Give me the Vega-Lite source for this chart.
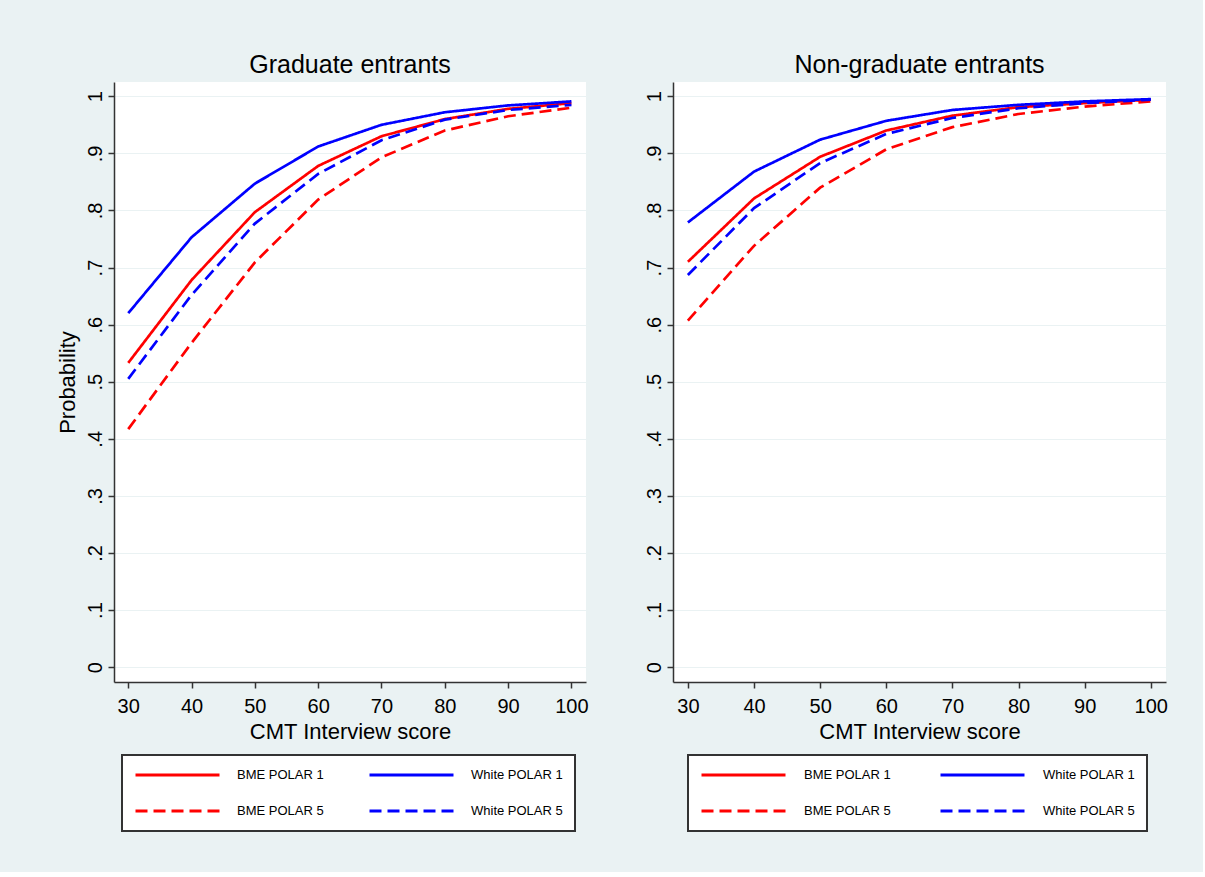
{
  "$schema": "https://vega.github.io/schema/vega-lite/v6.json",
  "background": "#EAF2F3",
  "padding": {"left": 56, "top": 53, "right": 35, "bottom": 40},
  "spacing": 55,
  "config": {
    "font": "Liberation Sans",
    "view": {"stroke": null, "fill": "white"},
    "axis": {
      "labelFont": "Liberation Sans",
      "titleFont": "Liberation Sans",
      "labelColor": "black",
      "titleColor": "black",
      "domainColor": "#333333",
      "domainWidth": 1.5,
      "tickColor": "#333333",
      "tickWidth": 1.5,
      "tickSize": 6,
      "titleFontWeight": "normal"
    },
    "title": {"font": "Liberation Sans", "fontSize": 25, "fontWeight": "normal", "color": "black"}
  },
  "datasets": {
    "grad": [
      {"score": 30, "prob": 0.533, "group": "BME POLAR 1"},
      {"score": 40, "prob": 0.678, "group": "BME POLAR 1"},
      {"score": 50, "prob": 0.797, "group": "BME POLAR 1"},
      {"score": 60, "prob": 0.878, "group": "BME POLAR 1"},
      {"score": 70, "prob": 0.930, "group": "BME POLAR 1"},
      {"score": 80, "prob": 0.960, "group": "BME POLAR 1"},
      {"score": 90, "prob": 0.978, "group": "BME POLAR 1"},
      {"score": 100, "prob": 0.988, "group": "BME POLAR 1"},
      {"score": 30, "prob": 0.620, "group": "White POLAR 1"},
      {"score": 40, "prob": 0.753, "group": "White POLAR 1"},
      {"score": 50, "prob": 0.847, "group": "White POLAR 1"},
      {"score": 60, "prob": 0.912, "group": "White POLAR 1"},
      {"score": 70, "prob": 0.950, "group": "White POLAR 1"},
      {"score": 80, "prob": 0.972, "group": "White POLAR 1"},
      {"score": 90, "prob": 0.984, "group": "White POLAR 1"},
      {"score": 100, "prob": 0.991, "group": "White POLAR 1"},
      {"score": 30, "prob": 0.417, "group": "BME POLAR 5"},
      {"score": 40, "prob": 0.568, "group": "BME POLAR 5"},
      {"score": 50, "prob": 0.709, "group": "BME POLAR 5"},
      {"score": 60, "prob": 0.819, "group": "BME POLAR 5"},
      {"score": 70, "prob": 0.893, "group": "BME POLAR 5"},
      {"score": 80, "prob": 0.940, "group": "BME POLAR 5"},
      {"score": 90, "prob": 0.965, "group": "BME POLAR 5"},
      {"score": 100, "prob": 0.980, "group": "BME POLAR 5"},
      {"score": 30, "prob": 0.505, "group": "White POLAR 5"},
      {"score": 40, "prob": 0.652, "group": "White POLAR 5"},
      {"score": 50, "prob": 0.777, "group": "White POLAR 5"},
      {"score": 60, "prob": 0.864, "group": "White POLAR 5"},
      {"score": 70, "prob": 0.923, "group": "White POLAR 5"},
      {"score": 80, "prob": 0.959, "group": "White POLAR 5"},
      {"score": 90, "prob": 0.976, "group": "White POLAR 5"},
      {"score": 100, "prob": 0.985, "group": "White POLAR 5"}
    ],
    "nongrad": [
      {"score": 30, "prob": 0.710, "group": "BME POLAR 1"},
      {"score": 40, "prob": 0.821, "group": "BME POLAR 1"},
      {"score": 50, "prob": 0.894, "group": "BME POLAR 1"},
      {"score": 60, "prob": 0.940, "group": "BME POLAR 1"},
      {"score": 70, "prob": 0.966, "group": "BME POLAR 1"},
      {"score": 80, "prob": 0.981, "group": "BME POLAR 1"},
      {"score": 90, "prob": 0.988, "group": "BME POLAR 1"},
      {"score": 100, "prob": 0.994, "group": "BME POLAR 1"},
      {"score": 30, "prob": 0.779, "group": "White POLAR 1"},
      {"score": 40, "prob": 0.868, "group": "White POLAR 1"},
      {"score": 50, "prob": 0.924, "group": "White POLAR 1"},
      {"score": 60, "prob": 0.957, "group": "White POLAR 1"},
      {"score": 70, "prob": 0.976, "group": "White POLAR 1"},
      {"score": 80, "prob": 0.985, "group": "White POLAR 1"},
      {"score": 90, "prob": 0.991, "group": "White POLAR 1"},
      {"score": 100, "prob": 0.995, "group": "White POLAR 1"},
      {"score": 30, "prob": 0.607, "group": "BME POLAR 5"},
      {"score": 40, "prob": 0.738, "group": "BME POLAR 5"},
      {"score": 50, "prob": 0.840, "group": "BME POLAR 5"},
      {"score": 60, "prob": 0.907, "group": "BME POLAR 5"},
      {"score": 70, "prob": 0.946, "group": "BME POLAR 5"},
      {"score": 80, "prob": 0.969, "group": "BME POLAR 5"},
      {"score": 90, "prob": 0.982, "group": "BME POLAR 5"},
      {"score": 100, "prob": 0.991, "group": "BME POLAR 5"},
      {"score": 30, "prob": 0.687, "group": "White POLAR 5"},
      {"score": 40, "prob": 0.804, "group": "White POLAR 5"},
      {"score": 50, "prob": 0.883, "group": "White POLAR 5"},
      {"score": 60, "prob": 0.934, "group": "White POLAR 5"},
      {"score": 70, "prob": 0.962, "group": "White POLAR 5"},
      {"score": 80, "prob": 0.979, "group": "White POLAR 5"},
      {"score": 90, "prob": 0.988, "group": "White POLAR 5"},
      {"score": 100, "prob": 0.994, "group": "White POLAR 5"}
    ]
  },
  "resolve": {"legend": {"color": "independent", "strokeDash": "independent"}},
  "hconcat": [
    {
      "data": {"name": "grad"},
      "title": {"text": "Graduate entrants", "anchor": "middle", "frame": "group", "offset": 4},
      "width": 472,
      "height": 600,
      "mark": {"type": "line", "strokeWidth": 2.7},
      "encoding": {
        "x": {"field": "score", "type": "quantitative",
          "scale": {"domain": [27.75, 102.3], "nice": false, "zero": false},
          "axis": {"title": "CMT Interview score", "values": [30, 40, 50, 60, 70, 80, 90, 100], "grid": false,
            "labelFontSize": 20, "titleFontSize": 22, "labelPadding": 8, "titlePadding": 5}},
        "y": {"field": "prob", "type": "quantitative",
          "scale": {"domain": [-0.026, 1.025], "nice": false, "zero": false},
          "axis": {"title": "Probability", "values": [0, 0.1, 0.2, 0.3, 0.4, 0.5, 0.6, 0.7, 0.8, 0.9, 1],
            "labelExpr": "datum.value == 0 ? '0' : datum.value == 1 ? '1' : '.' + round(datum.value * 10)",
            "labelAngle": 270, "labelAlign": "center", "labelBaseline": "bottom",
            "labelFontSize": 20, "titleFontSize": 22, "labelPadding": 3, "titlePadding": 6,
            "grid": true, "gridColor": "#EAF2F3", "gridWidth": 1.2}},
        "color": {"field": "group", "type": "nominal",
          "sort": ["BME POLAR 1", "White POLAR 1", "BME POLAR 5", "White POLAR 5"],
          "scale": {"domain": ["BME POLAR 1", "White POLAR 1", "BME POLAR 5", "White POLAR 5"], "range": ["#FF0000", "#0000FF", "#FF0000", "#0000FF"]},
          "legend": {"title": null, "orient": "none", "direction": "horizontal", "legendX": 8, "legendY": 673, "columns": 2,
            "symbolType": "stroke", "symbolSize": 7056, "symbolStrokeWidth": 3, "clipHeight": 16,
            "labelFontSize": 13, "labelFont": "Liberation Sans", "labelColor": "black", "labelOffset": 16,
            "rowPadding": 20, "columnPadding": 44, "padding": 12,
            "fillColor": "white", "strokeColor": "#333333",
            "encode": {"legend": {"update": {"strokeWidth": {"value": 2}}}}}},
        "strokeDash": {"field": "group", "type": "nominal",
          "sort": ["BME POLAR 1", "White POLAR 1", "BME POLAR 5", "White POLAR 5"],
          "scale": {"domain": ["BME POLAR 1", "White POLAR 1", "BME POLAR 5", "White POLAR 5"], "range": [[1, 0], [1, 0], [12, 6], [12, 6]]},
          "legend": {"title": null, "orient": "none", "direction": "horizontal", "legendX": 8, "legendY": 673, "columns": 2,
            "symbolType": "stroke", "symbolSize": 7056, "symbolStrokeWidth": 3, "clipHeight": 16,
            "labelFontSize": 13, "labelFont": "Liberation Sans", "labelColor": "black", "labelOffset": 16,
            "rowPadding": 20, "columnPadding": 44, "padding": 12,
            "fillColor": "white", "strokeColor": "#333333",
            "encode": {"legend": {"update": {"strokeWidth": {"value": 2}}}}}}
      }
    },
    {
      "data": {"name": "nongrad"},
      "title": {"text": "Non-graduate entrants", "anchor": "middle", "frame": "group", "offset": 4},
      "width": 493,
      "height": 600,
      "mark": {"type": "line", "strokeWidth": 2.7},
      "encoding": {
        "x": {"field": "score", "type": "quantitative",
          "scale": {"domain": [27.75, 102.3], "nice": false, "zero": false},
          "axis": {"title": "CMT Interview score", "values": [30, 40, 50, 60, 70, 80, 90, 100], "grid": false,
            "labelFontSize": 20, "titleFontSize": 22, "labelPadding": 8, "titlePadding": 5}},
        "y": {"field": "prob", "type": "quantitative",
          "scale": {"domain": [-0.026, 1.025], "nice": false, "zero": false},
          "axis": {"title": null, "values": [0, 0.1, 0.2, 0.3, 0.4, 0.5, 0.6, 0.7, 0.8, 0.9, 1],
            "labelExpr": "datum.value == 0 ? '0' : datum.value == 1 ? '1' : '.' + round(datum.value * 10)",
            "labelAngle": 270, "labelAlign": "center", "labelBaseline": "bottom",
            "labelFontSize": 20, "labelPadding": 3,
            "grid": true, "gridColor": "#EAF2F3", "gridWidth": 1.2}},
        "color": {"field": "group", "type": "nominal",
          "sort": ["BME POLAR 1", "White POLAR 1", "BME POLAR 5", "White POLAR 5"],
          "scale": {"domain": ["BME POLAR 1", "White POLAR 1", "BME POLAR 5", "White POLAR 5"], "range": ["#FF0000", "#0000FF", "#FF0000", "#0000FF"]},
          "legend": {"title": null, "orient": "none", "direction": "horizontal", "legendX": 15, "legendY": 673, "columns": 2,
            "symbolType": "stroke", "symbolSize": 7056, "symbolStrokeWidth": 3, "clipHeight": 16,
            "labelFontSize": 13, "labelFont": "Liberation Sans", "labelColor": "black", "labelOffset": 17,
            "rowPadding": 20, "columnPadding": 48, "padding": 12,
            "fillColor": "white", "strokeColor": "#333333",
            "encode": {"legend": {"update": {"strokeWidth": {"value": 2}}}}}},
        "strokeDash": {"field": "group", "type": "nominal",
          "sort": ["BME POLAR 1", "White POLAR 1", "BME POLAR 5", "White POLAR 5"],
          "scale": {"domain": ["BME POLAR 1", "White POLAR 1", "BME POLAR 5", "White POLAR 5"], "range": [[1, 0], [1, 0], [12, 6], [12, 6]]},
          "legend": {"title": null, "orient": "none", "direction": "horizontal", "legendX": 15, "legendY": 673, "columns": 2,
            "symbolType": "stroke", "symbolSize": 7056, "symbolStrokeWidth": 3, "clipHeight": 16,
            "labelFontSize": 13, "labelFont": "Liberation Sans", "labelColor": "black", "labelOffset": 17,
            "rowPadding": 20, "columnPadding": 48, "padding": 12,
            "fillColor": "white", "strokeColor": "#333333",
            "encode": {"legend": {"update": {"strokeWidth": {"value": 2}}}}}}
      }
    }
  ]
}
